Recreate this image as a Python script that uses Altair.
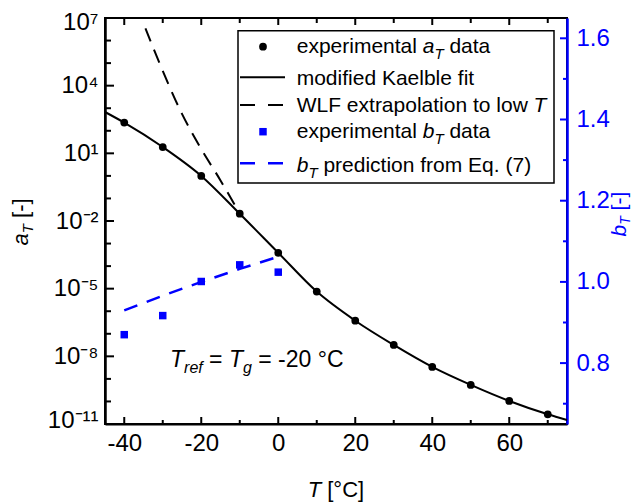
import altair as alt
import pandas as pd

FONT = "Liberation Sans"
W, H = 462, 406

# ---------------- data ----------------
T_a = [-40, -30, -20, -10, 0, 10, 20, 30, 40, 50, 60, 70]
aT = [2.3e2, 1.9e1, 1.0, 2.1e-2, 3.9e-4, 7.4e-6, 3.8e-7, 3.2e-8, 3.4e-9, 5.4e-10, 1.05e-10, 2.7e-11]

T_fit = [-45, -40, -30, -20, -10, 0, 10, 20, 30, 40, 50, 60, 70, 75]
aT_fit = [6.8e2, 2.3e2, 1.9e1, 1.0, 2.1e-2, 3.9e-4, 7.4e-6, 3.8e-7, 3.2e-8, 3.4e-9, 5.4e-10, 1.05e-10, 2.7e-11, 1.5e-11]

T_wlf = [-34.5, -30, -25, -20, -15, -10]
aT_wlf = [3.5e6, 4.5e4, 5.6e2, 1.55e1, 6.3e-1, 2.1e-2]

T_b = [-40, -30, -20, -10, 0]
bT = [0.870, 0.917, 1.001, 1.042, 1.024]

T_pred = [-40, -30, -20, -10, 0]
bT_pred = [0.930, 0.966, 1.000, 1.032, 1.062]

# ticks / labels
x_major = [-40, -20, 0, 20, 40, 60]
x_minor = [-30, -10, 10, 30, 50, 70]
a_major = [1e7, 1e4, 1e1, 1e-2, 1e-5, 1e-8, 1e-11]
a_labels = ["10⁷", "10⁴", "10¹", "10⁻²", "10⁻⁵", "10⁻⁸", "10⁻¹¹"]
a_minor = [1e6, 1e5, 1e3, 1e2, 1e0, 1e-1, 1e-3, 1e-4, 1e-6, 1e-7, 1e-9, 1e-10]
b_major = [0.8, 1.0, 1.2, 1.4, 1.6]
b_minor = [0.7, 0.9, 1.1, 1.3, 1.5]

# legend texts: (text, style) with n = normal, i = italic, s = italic subscript
legend_rows = [
    [("experimental ", "n"), ("a", "i"), ("T", "s"), (" data", "n")],
    [("modified Kaelble fit", "n")],
    [("WLF extrapolation to low ", "n"), ("T", "i")],
    [("experimental ", "n"), ("b", "i"), ("T", "s"), (" data", "n")],
    [("b", "i"), ("T", "s"), (" prediction from Eq. (7)", "n")],
]
annot_pieces = [("T", "i"), ("ref", "s"), (" = ", "n"), ("T", "i"), ("g", "s"), (" = -20 °C", "n")]
xtitle_pieces = [("T", "i"), (" [°C]", "n")]
ltitle_pieces = [("a", "i"), ("T", "s"), (" [-]", "n")]
rtitle_pieces = [("b", "i"), ("T", "s"), (" [-]", "n")]

# ---------------- helpers ----------------
CW = {" ": 278, "(": 333, ")": 333, "-": 333, ".": 278, "=": 584, "[": 278, "]": 278, "°": 400,
      "C": 722, "E": 667, "F": 611, "K": 667, "L": 556, "T": 611, "W": 944,
      "a": 556, "b": 556, "c": 500, "d": 556, "e": 556, "f": 278, "g": 556, "i": 222,
      "l": 222, "m": 833, "n": 556, "o": 556, "p": 556, "q": 556, "r": 333, "s": 500,
      "t": 278, "w": 722, "x": 500}


def tw(s, size):
    return sum(CW.get(c, 556) for c in s) / 1000.0 * size


one = pd.DataFrame({"k": [0]})


def txt(s, x, y, size, style="normal", color="black", angle=0):
    return alt.Chart(one).mark_text(
        text=s, font=FONT, fontSize=size, fontStyle=style, color=color,
        angle=angle, align="left", baseline="alphabetic"
    ).encode(x=alt.value(x), y=alt.value(y))


def rich(pieces, x0, y0, size, sub_size, drop, color="black", vertical=False):
    out = []
    pos = 0.0
    for text, st in pieces:
        sz = sub_size if st == "s" else size
        style = "normal" if st == "n" else "italic"
        d = drop if st == "s" else 0
        lead = tw(text[: len(text) - len(text.lstrip(" "))], sz)
        stripped = text.strip(" ")
        if vertical:
            out.append(txt(stripped, x0 + d, y0 - pos - lead, sz, style, color, angle=270))
        else:
            out.append(txt(stripped, x0 + pos + lead, y0 + d, sz, style, color))
        pos += tw(text, sz)
    return out


# ---------------- scales & axes ----------------
xs = alt.Scale(domain=[-45, 75], nice=False, zero=False)
xa = alt.Axis(values=x_major, labelExpr="(datum.value < 0 ? '-' : '') + abs(datum.value)",
              labelFont=FONT, labelFontSize=24, labelColor="black",
              labelPadding=7, ticks=False, tickSize=0, domainColor="black", domainWidth=2,
              grid=False, title=None, labelFlush=False, labelOverlap=False)

expr = ""
for v, s in zip(a_major, a_labels):
    expr += f"datum.value > {v / 3:.3e} ? '{s}' : "
expr += "''"

ya_s = alt.Scale(type="log", domain=[1e-11, 1e7], nice=False)
ya = alt.Axis(orient="left", values=a_major, labelExpr=expr, labelFont=FONT, labelFontSize=24,
              labelColor="black", labelPadding=7, ticks=False, tickSize=0, domainColor="black",
              domainWidth=2.5, grid=False, title=None, labelFlush=True, labelFlushOffset=8,
              labelOverlap=False)

yb_s = alt.Scale(domain=[0.65, 1.65], nice=False, zero=False)
yb = alt.Axis(orient="right", values=b_major, format=".1f", labelFont=FONT, labelFontSize=24,
              labelColor="blue", labelPadding=9, ticks=False, tickSize=0, domainColor="blue",
              domainWidth=2.5, grid=False, title=None, labelFlush=False, labelOverlap=False)


def X(f):
    return alt.X(f, type="quantitative", scale=xs, axis=xa)


def YA(f):
    return alt.Y(f, type="quantitative", scale=ya_s, axis=ya)


def YB(f):
    return alt.Y(f, type="quantitative", scale=yb_s, axis=yb)


# ---------------- left group (a_T) ----------------
df_a = pd.DataFrame({"T": T_a, "aT": aT})
df_fit = pd.DataFrame({"T": T_fit, "aT": aT_fit})
df_wlf = pd.DataFrame({"T": T_wlf, "aT": aT_wlf})

fit_line = alt.Chart(df_fit).mark_line(color="black", strokeWidth=2, interpolate="monotone").encode(
    x=X("T"), y=YA("aT"))
wlf_line = alt.Chart(df_wlf).mark_line(color="black", strokeWidth=2, strokeDash=[14, 9],
                                       interpolate="monotone").encode(x=X("T"), y=YA("aT"))
pts_a = alt.Chart(df_a).mark_circle(color="black", size=60, opacity=1).encode(x=X("T"), y=YA("aT"))

lt_major = alt.Chart(pd.DataFrame({"v": a_major})).mark_rule(color="black", strokeWidth=2).encode(
    y=YA("v"), x=alt.value(0), x2=alt.value(9))
lt_minor = alt.Chart(pd.DataFrame({"v": a_minor})).mark_rule(color="black", strokeWidth=2).encode(
    y=YA("v"), x=alt.value(0), x2=alt.value(6))

df_xmaj = pd.DataFrame({"t": x_major})
df_xmin = pd.DataFrame({"t": x_minor})
bt_major = alt.Chart(df_xmaj).mark_rule(color="black", strokeWidth=2).encode(
    x=X("t"), y=alt.value(H), y2=alt.value(H - 7))
bt_minor = alt.Chart(df_xmin).mark_rule(color="black", strokeWidth=2).encode(
    x=X("t"), y=alt.value(H), y2=alt.value(H - 4))
tt_major = alt.Chart(df_xmaj).mark_rule(color="black", strokeWidth=2).encode(
    x=X("t"), y=alt.value(0), y2=alt.value(7))
tt_minor = alt.Chart(df_xmin).mark_rule(color="black", strokeWidth=2).encode(
    x=X("t"), y=alt.value(0), y2=alt.value(5))

left = alt.layer(lt_major, lt_minor, bt_major, bt_minor, tt_major, tt_minor,
                 fit_line, wlf_line, pts_a)

# ---------------- right group (b_T) ----------------
df_b = pd.DataFrame({"T": T_b, "bT": bT})
df_pred = pd.DataFrame({"T": T_pred, "bT": bT_pred})

pred_line = alt.Chart(df_pred).mark_line(color="blue", strokeWidth=2.5, strokeDash=[14, 10]).encode(
    x=X("T"), y=YB("bT"))
pts_b = alt.Chart(df_b).mark_square(color="blue", size=56, opacity=1).encode(x=X("T"), y=YB("bT"))
rt_major = alt.Chart(pd.DataFrame({"v": b_major})).mark_rule(color="blue", strokeWidth=2).encode(
    y=YB("v"), x=alt.value(W), x2=alt.value(W - 7))
rt_minor = alt.Chart(pd.DataFrame({"v": b_minor})).mark_rule(color="blue", strokeWidth=2).encode(
    y=YB("v"), x=alt.value(W), x2=alt.value(W - 4))

right = alt.layer(rt_major, rt_minor, pred_line, pts_b)

# ---------------- legend & texts ----------------
ann = []
ann.append(alt.Chart(one).mark_rect(fill="white", stroke="black", strokeWidth=1.5).encode(
    x=alt.value(133), x2=alt.value(449), y=alt.value(12.7), y2=alt.value(165)))
ann.append(alt.Chart(one).mark_circle(color="black", size=60, opacity=1).encode(
    x=alt.value(158), y=alt.value(28.7)))
ann.append(alt.Chart(one).mark_rule(color="black", strokeWidth=2).encode(
    x=alt.value(135), x2=alt.value(180), y=alt.value(59.3)))
ann.append(alt.Chart(one).mark_rule(color="black", strokeWidth=2, strokeDash=[15, 13]).encode(
    x=alt.value(135), x2=alt.value(178), y=alt.value(87)))
ann.append(alt.Chart(one).mark_square(color="blue", size=56, opacity=1).encode(
    x=alt.value(158), y=alt.value(113.7)))
ann.append(alt.Chart(one).mark_rule(color="blue", strokeWidth=2.5, strokeDash=[15, 13]).encode(
    x=alt.value(135), x2=alt.value(178), y=alt.value(145.3)))

row_base = [35.3, 67.0, 93.7, 120.3, 153.7]
for row, yb_ in zip(legend_rows, row_base):
    ann += rich(row, 191.7, yb_, 21, 15, 6)

ann += rich(annot_pieces, 65, 348.7, 23, 16, 6)
ann += rich(xtitle_pieces, 202.7, 478.7, 22, 15, 5)
ann += rich(ltitle_pieces, -77, 227.5, 22, 15, 5, vertical=True)
ann += rich(rtitle_pieces, 521, 218.5, 21, 14, 4, color="blue", vertical=True)

chart = alt.layer(left, right, *ann).resolve_scale(y="independent").properties(
    width=W, height=H,
    autosize=alt.AutoSizeParams(type="none"),
    padding={"left": 97, "top": 10, "right": 66, "bottom": 78},
).configure_view(stroke="black", strokeWidth=2)

chart.save("out.html", embed_options={"renderer": "svg", "actions": False})
